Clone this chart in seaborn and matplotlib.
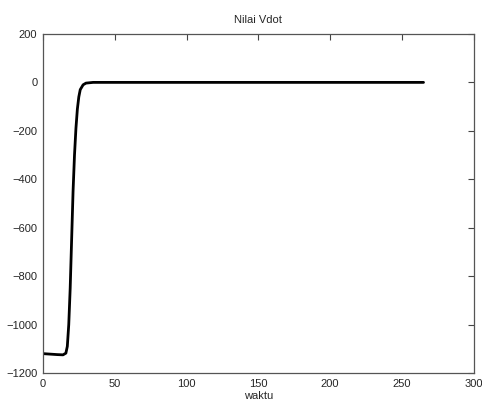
import pandas as pd
import matplotlib
matplotlib.use('Agg')
import matplotlib.pyplot as plt
import seaborn as sns

# nilai Vdot terhadap waktu
waktu = [0, 5, 10, 14, 16, 17, 18, 19, 20, 21, 22, 23, 24, 25, 26, 28, 30, 35, 265]
vdot = [-1120, -1122, -1124, -1125, -1118, -1090, -1000, -850, -650, -450, -300,
        -190, -110, -60, -30, -10, -3, 0, 0]

df = pd.DataFrame({'waktu': waktu, 'vdot': vdot})

sns.set_style('white')
plt.rcParams['font.family'] = ['Liberation Sans', 'DejaVu Sans']
plt.rcParams['font.size'] = 8

fig = plt.figure(figsize=(4.82, 4.09), dpi=100)
ax = fig.add_axes([0.089, 0.088, 0.894, 0.829])

sns.lineplot(x='waktu', y='vdot', data=df, color='black', linewidth=2.0, ax=ax)

ax.set_xlim(0, 300)
ax.set_ylim(-1200, 200)
ax.set_xticks(range(0, 301, 50))
ax.set_yticks(range(-1200, 201, 200))
ax.tick_params(direction='in', top=True, right=True, length=4, width=0.8,
               color='#444444', labelsize=8, pad=4)
for s in ax.spines.values():
    s.set_color('#555555')
    s.set_linewidth(0.9)

ax.set_title('Nilai Vdot', fontsize=8, pad=8)
ax.set_xlabel('waktu', fontsize=8, labelpad=2)
ax.set_ylabel('')

fig.savefig('out.png', dpi=100)
